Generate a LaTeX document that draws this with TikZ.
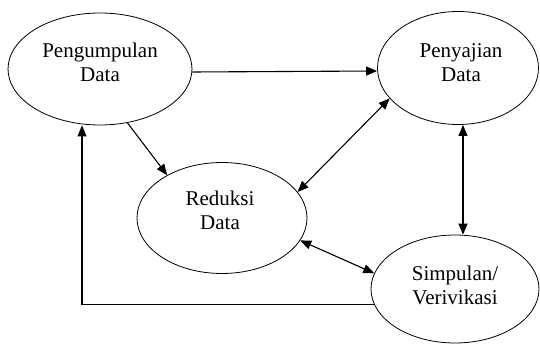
\documentclass[tikz,border=0pt]{standalone}
\usepackage{fontspec}
\setmainfont{Liberation Serif}
\usetikzlibrary{arrows.meta,shapes.geometric}
\begin{document}
\begin{tikzpicture}[x=1pt,y=-1pt,
  stage/.style={ellipse,draw,line width=0.8pt,inner sep=0pt},
  lbl/.style={align=center,inner sep=0pt,anchor=base,font=\fontsize{21}{24}\selectfont},
  tip/.style={Triangle[length=11pt,width=9pt]},
  arr/.style={line width=1.1pt,-{Triangle[length=11pt,width=9pt]}},
  dbl/.style={line width=1.1pt,{Triangle[length=11pt,width=9pt]}-{Triangle[length=11pt,width=9pt]}}]
\useasboundingbox (0,0) rectangle (540,344);
\node[stage,minimum width=184pt,minimum height=112pt] (P) at (100,69) {};
\node[stage,minimum width=161pt,minimum height=113pt] (S) at (458,68) {};
\node[stage,minimum width=170pt,minimum height=111pt] (R) at (222,218) {};
\node[stage,minimum width=168pt,minimum height=108pt] (V) at (455,289) {};
\node[lbl] (Pt) at (100,82) {Pengumpulan\\Data};
\node[lbl] (St) at (461,82) {Penyajian\\Data};
\node[lbl] (Rt) at (220,230) {Reduksi\\Data};
\node[lbl] (Vt) at (455,304) {Simpulan/\\Verivikasi};
\coordinate (c) at (82,305);
\coordinate (vx) at (463,0);
\draw[arr] ([yshift=-3pt]P.east) -- ([yshift=-3pt]S.west);
\draw[arr] (P.297) -- (R.142);
\draw[dbl] (R.19) -- (S.204);
\draw[dbl] (S.south -| vx) -- (V.north -| vx);
\draw[dbl] (R.344) -- (V.169);
\draw[arr] (V.191) -| (P.south -| c);
\end{tikzpicture}
\end{document}
